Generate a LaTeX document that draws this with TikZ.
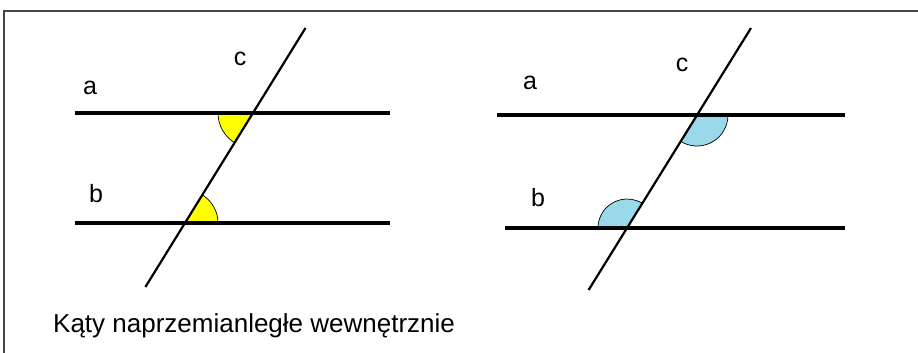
\documentclass[tikz,border=0pt]{standalone}
\usepackage{fontspec}
\setmainfont{Liberation Sans}
\definecolor{angyellow}{RGB}{255,255,0}
\definecolor{angblue}{RGB}{153,217,234}
\definecolor{framegray}{RGB}{70,70,70}
\begin{document}
\begin{tikzpicture}[x=1pt,y=1pt,
  parline/.style={line width=3.2pt,black},
  transline/.style={line width=2.2pt,black},
  angsector/.style={draw=black,line width=0.7pt},
  lbl/.style={font=\fontsize{25}{30}\selectfont,anchor=base,inner sep=0pt},
  caplbl/.style={font=\fontsize{26}{30}\selectfont,anchor=base west,inner sep=0pt},
  frameline/.style={line width=1.8pt,framegray}]
\useasboundingbox (0,0) rectangle (918,353);
% frame
\coordinate (fTL) at (4,342);
\coordinate (fTR) at (918,342);
\coordinate (fBL) at (4,0);
\draw[frameline] (fBL) -- (fTL) -- (fTR);
% ---------- left figure ----------
\coordinate (LaL) at (75,240); \coordinate (LaR) at (390,240);
\coordinate (LbL) at (75,130); \coordinate (LbR) at (390,130);
\coordinate (LcT) at (305.5,325); \coordinate (LcB) at (145.4,66);
\coordinate (P1) at (253,240); \coordinate (P2) at (185,130);
\fill[angyellow] (P1) -- ++(180:35) arc[start angle=180,end angle=238.3,radius=35] -- cycle;
\draw[angsector] (P1) ++(180:35) arc[start angle=180,end angle=238.3,radius=35];
\fill[angyellow] (P2) -- ++(0:33) arc[start angle=0,end angle=58.3,radius=33] -- cycle;
\draw[angsector] (P2) ++(0:33) arc[start angle=0,end angle=58.3,radius=33];
\draw[parline] (LaL) -- (LaR);
\draw[parline] (LbL) -- (LbR);
\draw[transline] (LcB) -- (LcT);
\node[lbl] (la) at (90,258) {a};
\node[lbl] (lc) at (240,287) {c};
\node[lbl] (lb) at (96,150) {b};
% ---------- right figure ----------
\coordinate (RaL) at (497,238); \coordinate (RaR) at (845,238);
\coordinate (RbL) at (505,125); \coordinate (RbR) at (845,125);
\coordinate (RcT) at (751,325); \coordinate (RcB) at (588.6,63);
\coordinate (Q1) at (697,238); \coordinate (Q2) at (627,125);
\fill[angblue] (Q1) -- ++(-121.8:31) arc[start angle=-121.8,end angle=0,radius=31] -- cycle;
\draw[angsector] (Q1) ++(-121.8:31) arc[start angle=-121.8,end angle=0,radius=31];
\fill[angblue] (Q2) -- ++(58.2:29) arc[start angle=58.2,end angle=180,radius=29] -- cycle;
\draw[angsector] (Q2) ++(58.2:29) arc[start angle=58.2,end angle=180,radius=29];
\draw[parline] (RaL) -- (RaR);
\draw[parline] (RbL) -- (RbR);
\draw[transline] (RcB) -- (RcT);
\node[lbl] (ra) at (530,263) {a};
\node[lbl] (rc) at (682,281) {c};
\node[lbl] (rb) at (538,146) {b};
% caption
\node[caplbl] (cap) at (53,20) {Kąty naprzemianległe wewnętrznie};
\end{tikzpicture}
\end{document}
